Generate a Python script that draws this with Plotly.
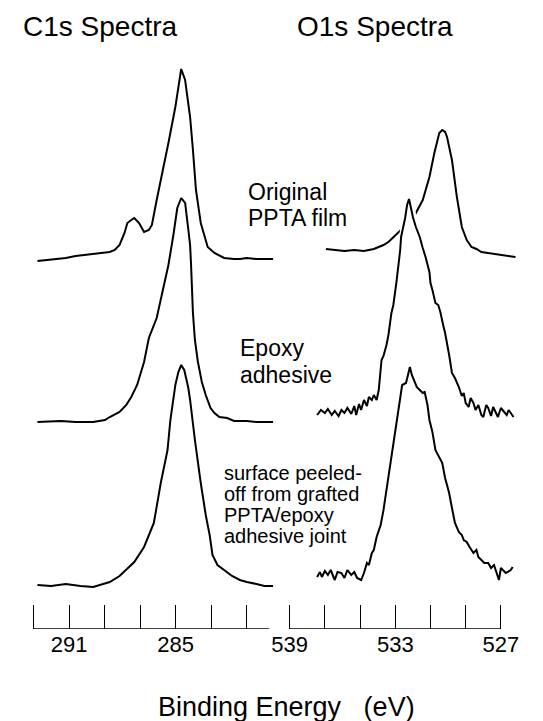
import plotly.graph_objects as go

# ---------------- C1s spectra (binding energy in eV, intensity in arbitrary units) -------------
c1s_ppta_E = [292.78, 292.28, 291.73, 291.18, 290.63, 290.08, 289.53, 288.98, 288.71, 288.43,
              288.16, 287.88, 287.72, 287.50, 287.33, 287.06, 286.78, 286.51, 286.34, 286.07,
              285.79, 285.41, 285.02, 284.80, 284.69, 284.47, 284.19, 284.03, 283.86, 283.59,
              283.20, 282.82, 282.27, 281.72, 281.39, 281.00, 280.45, 279.52]
c1s_ppta_I = [-1, 0, 1, 2, 4, 5, 6, 7, 8, 10,
              15, 27, 37, 40, 42, 37, 28, 30, 35, 60,
              83, 117, 153, 180, 191, 180, 143, 110, 70, 37,
              13, 7, 2, 1, 1, 2, 1, 1]

c1s_epoxy_E = [292.78, 292.01, 291.46, 290.63, 289.64, 288.98, 288.71, 288.16, 287.78, 287.50,
               287.17, 286.78, 286.51, 286.07, 285.79, 285.41, 285.13, 284.91, 284.69, 284.47,
               284.30, 284.19, 284.14, 284.08, 284.03, 283.92, 283.75, 283.53, 283.31, 283.04,
               282.82, 282.54, 282.10, 281.72, 281.00, 280.45, 279.52]
c1s_epoxy_I = [0, 1, 1, 0, 0, 2, 5, 10, 17, 25,
               37, 60, 84, 104, 127, 157, 187, 214, 224, 219,
               194, 177, 159, 122, 109, 82, 60, 40, 27, 14,
               9, 5, 4, 1, 1, 0, 0]

c1s_joint_E = [292.78, 292.01, 291.18, 290.36, 289.64, 288.98, 288.71, 288.16, 287.78, 287.33,
               286.78, 286.23, 285.84, 285.46, 285.30, 285.13, 285.02, 284.85, 284.69, 284.52,
               284.30, 284.19, 284.03, 283.92, 283.59, 283.31, 283.09, 282.93, 282.65, 282.27,
               281.83, 281.39, 281.00, 280.45, 280.01, 279.52]
c1s_joint_I = [0, -1, 1, -1, -2, 1, 3, 9, 15, 23,
               38, 62, 102, 135, 165, 185, 200, 213, 220, 215,
               198, 185, 160, 145, 102, 70, 50, 30, 20, 15,
               9, 5, 3, 1, -1, -1]

# ---------------- O1s spectra -------------------------------------------------------------
o1s_ppta_E = [536.94, 536.44, 535.89, 535.33, 534.78, 534.22, 533.67, 533.39, 533.11, 532.83,
              532.56, 532.28, 532.00, 531.89, 531.44, 531.06, 530.78, 530.50, 530.33, 530.17,
              530.06, 529.78, 529.50, 529.22, 528.94, 528.67, 528.39, 528.11, 527.72, 527.17,
              526.72, 526.17]
o1s_ppta_I = [1, 0, -1, 0, -1, 1, 5, 8, 13, 18,
              22, 26, 31, 35, 50, 73, 97, 117, 120, 118,
              113, 90, 53, 23, 10, 3, 1, -2, -3, -5,
              -6, -7]

o1s_epoxy_E = [537.44, 537.22, 537.00, 536.83, 536.61, 536.44, 536.22, 536.06, 535.89, 535.72,
               535.50, 535.33, 535.22, 535.06, 534.94, 534.78, 534.61, 534.50, 534.33, 534.22,
               534.06, 533.94, 533.78, 533.67, 533.50, 533.39, 533.22, 533.11, 532.94, 532.83,
               532.72, 532.67, 532.56, 532.44, 532.33, 532.22, 532.11, 532.00, 531.83, 531.61,
               531.44, 531.28, 531.06, 531.00, 530.89, 530.72, 530.56, 530.44, 530.28, 530.17,
               529.94, 529.78, 529.61, 529.39, 529.22, 529.11, 529.00, 528.83, 528.72, 528.56,
               528.44, 528.28, 528.11, 528.00, 527.83, 527.72, 527.56, 527.44, 527.33, 527.17,
               527.00, 526.83, 526.67, 526.56, 526.44, 526.28]
o1s_epoxy_I = [-2, 3, 0, 4, -2, 2, -3, 3, 0, 5,
               -1, 7, -2, 9, 3, 13, 7, 16, 13, 18,
               13, 23, 53, 57, 68, 78, 100, 108, 130, 146,
               163, 176, 185, 195, 208, 214, 205, 196, 186, 176,
               165, 156, 141, 130, 123, 110, 108, 101, 88, 80,
               58, 40, 35, 26, 17, 20, 10, 6, 15, 10,
               3, 8, -2, -4, 8, 5, -3, 6, 2, -4,
               5, 1, -2, 3, 0, -4]

o1s_joint_E = [537.44, 537.28, 537.17, 537.00, 536.83, 536.67, 536.44, 536.28, 536.06, 535.89,
               535.72, 535.50, 535.33, 535.17, 534.94, 534.78, 534.61, 534.50, 534.33, 534.22,
               534.06, 533.83, 533.67, 533.50, 533.39, 533.22, 533.11, 533.00, 532.83, 532.72,
               532.61, 532.39, 532.28, 532.17, 532.06, 531.89, 531.78, 531.61, 531.44, 531.33,
               531.17, 531.06, 530.89, 530.72, 530.50, 530.33, 530.17, 529.94, 529.78, 529.61,
               529.39, 529.22, 529.11, 528.94, 528.78, 528.56, 528.39, 528.28, 528.11, 527.94,
               527.72, 527.56, 527.39, 527.22, 527.11, 527.00, 526.89, 526.72, 526.61, 526.44,
               526.33]
o1s_joint_I = [0, 5, 0, 6, 2, 7, -3, 5, 4, -1,
               7, 2, 5, -1, -3, 4, 14, 12, 24, 27,
               40, 52, 67, 87, 100, 122, 137, 150, 170, 182,
               192, 194, 202, 210, 202, 194, 190, 187, 184, 185,
               172, 157, 145, 127, 119, 114, 99, 84, 69, 54,
               45, 42, 37, 35, 30, 24, 27, 20, 17, 14,
               14, 9, 12, 2, -3, 9, 7, 4, 5, 7,
               10]

# vertical stacking offsets (arbitrary units), top -> bottom
c1s_offsets = [369, 207, 44]
o1s_offsets = [379, 216, 52]

# axes
c1s_ticks = [293, 291, 289, 287, 285, 283, 281]
c1s_ticktext = ["", "291", "", "", "285", "", ""]
o1s_ticks = [539, 537, 535, 533, 531, 529, 527]
o1s_ticktext = ["539", "", "", "533", "", "", "527"]
c1s_axis_span = [293, 279.74]
o1s_axis_span = [539, 527]

FONT = "Liberation Sans, Arial, sans-serif"
W, H = 543, 721

fig = go.Figure()

c1s_sets = [(c1s_ppta_E, c1s_ppta_I), (c1s_epoxy_E, c1s_epoxy_I), (c1s_joint_E, c1s_joint_I)]
o1s_sets = [(o1s_ppta_E, o1s_ppta_I), (o1s_epoxy_E, o1s_epoxy_I), (o1s_joint_E, o1s_joint_I)]


def add_spectrum(E, I, off, xa):
    ys = [v + off for v in I]
    # white backing (fill + halo) so lower spectra hide the ones behind them
    fig.add_trace(go.Scatter(x=E, y=ys, mode="lines", line=dict(color="white", width=7),
                             fill="tozeroy", fillcolor="white", xaxis=xa, yaxis="y",
                             hoverinfo="skip", showlegend=False))
    fig.add_trace(go.Scatter(x=E, y=ys, mode="lines", line=dict(color="black", width=2),
                             xaxis=xa, yaxis="y", hoverinfo="skip", showlegend=False))


for (E, I), off in zip(c1s_sets, c1s_offsets):
    add_spectrum(E, I, off, "x")
for (E, I), off in zip(o1s_sets, o1s_offsets):
    add_spectrum(E, I, off, "x2")

# baselines of the energy scales
fig.add_shape(type="line", xref="x", yref="y", x0=c1s_axis_span[0], x1=c1s_axis_span[1],
              y0=0, y1=0, line=dict(color="black", width=1.5))
fig.add_shape(type="line", xref="x2", yref="y", x0=o1s_axis_span[0], x1=o1s_axis_span[1],
              y0=0, y1=0, line=dict(color="black", width=1.5))


def px(v):
    return v / W


def py(v):
    return 1 - v / H


axis_common = dict(showgrid=False, zeroline=False, showline=False, ticks="inside",
                   ticklen=24, tickwidth=1.3, tickcolor="black",
                   tickfont=dict(family=FONT, size=22, color="black"),
                   fixedrange=True, anchor="y")

fig.update_layout(
    width=W, height=H,
    margin=dict(l=0, r=0, t=0, b=0),
    paper_bgcolor="white", plot_bgcolor="white",
    xaxis=dict(domain=[px(10), px(275)], range=[293.66, 279.08],
               tickmode="array", tickvals=c1s_ticks, ticktext=c1s_ticktext, **axis_common),
    xaxis2=dict(domain=[px(278), px(530)], range=[539.33, 525.33],
                tickmode="array", tickvals=o1s_ticks, ticktext=o1s_ticktext, **axis_common),
    yaxis=dict(domain=[py(629), 1], range=[0, 629], visible=False, fixedrange=True),
)


def note(text, x, y, size, anchor="left"):
    fig.add_annotation(text=text, xref="paper", yref="paper", x=px(x), y=py(y),
                       xanchor=anchor, yanchor="middle", showarrow=False,
                       font=dict(family=FONT, size=size, color="black"))


note("C1s Spectra", 90, 27, 28, "center")
note("O1s Spectra", 371, 27, 28, "center")
note("Original", 239, 192, 23)
note("PPTA film", 239, 218, 23)
note("Epoxy", 231, 348, 23)
note("adhesive", 231, 375, 23)
note("surface peeled-", 215, 473, 20)
note("off from grafted", 215, 494, 20)
note("PPTA/epoxy", 215, 515, 20)
note("adhesive joint", 215, 536, 20)
note("Binding Energy   (eV)", 281, 707, 27, "center")

fig.write_html("out.html")
